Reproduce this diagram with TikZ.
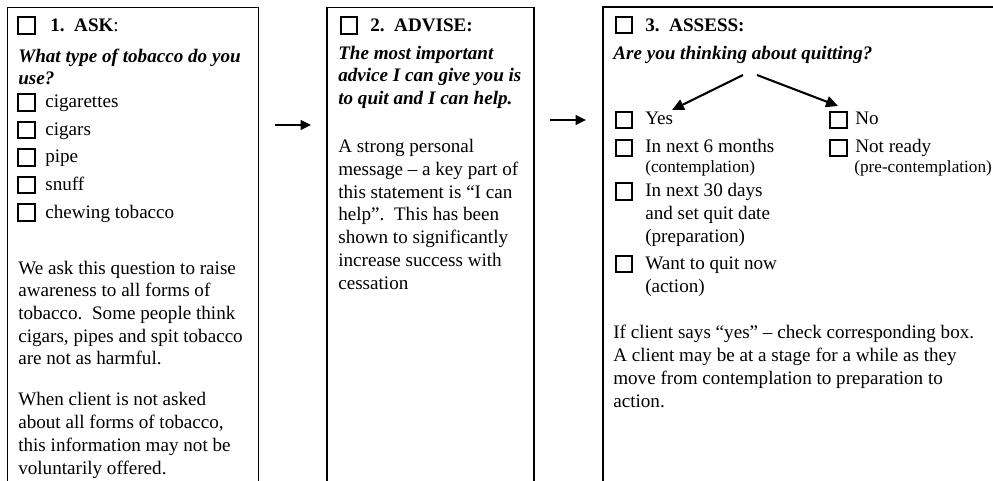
\documentclass[tikz,border=0pt]{standalone}
\usepackage{fontspec}
\setmainfont{Liberation Serif}
\usepackage{tikz}
\usetikzlibrary{arrows.meta,fit}

\begin{document}
\begin{tikzpicture}[x=0.628pt, y=-0.628pt,
    panel/.style={draw, line width=0.9pt, inner sep=0pt},
    chk/.style={draw, line width=1.2pt, minimum size=10.4pt, inner sep=0pt},
    txt/.style={anchor=base west, inner sep=0pt, align=left, font=\fontsize{12}{14.25}\selectfont},
    qtxt/.style={txt, font=\fontsize{12}{14.25}\selectfont\bfseries\itshape},
    small/.style={txt, font=\fontsize{10.8}{13}\selectfont},
    arr/.style={-{Triangle[length=6.5pt,width=6pt]}, line width=1.3pt},
    bigarr/.style={-{Triangle[length=7.5pt,width=7pt]}, line width=1.3pt}]
    \useasboundingbox (0,0) rectangle (993,481);
    \clip (0,0) rectangle (993,481);
    \node[panel, fit={(7.5,7.5) (258.5,495)}] (ask) {};
    \node[panel, fit={(327,7.5) (534,495)}] (advise) {};
    \node[panel, fit={(603,7) (1005,495)}] (assess) {};

    % multi-line texts sit on the baseline of their last line
    \node[chk] (ckask) at (26.5,25.5) {};
    \node[txt] (askhead) at (50,31.5) {\textbf{1.\ \ ASK}:};
    \node[qtxt] (askq) at (18,84.7) {What type of tobacco do you\\use?};
    \node[chk] (ckcig) at (26.5,102.5) {};
    \node[txt] (cig) at (45,108) {cigarettes};
    \node[chk] (ckcigar) at (26.5,130) {};
    \node[txt] (cigar) at (45,135.5) {cigars};
    \node[chk] (ckpipe) at (26.5,157.5) {};
    \node[txt] (pipe) at (45,163) {pipe};
    \node[chk] (cksnuff) at (26.5,185) {};
    \node[txt] (snuff) at (45,190.5) {snuff};
    \node[chk] (ckchew) at (26.5,212.5) {};
    \node[txt] (chew) at (45,218) {chewing tobacco};
    \node[txt] (askwhy) at (18,364.8) {We ask this question to raise\\awareness to all forms of\\tobacco.\ \ Some people think\\cigars, pipes and spit tobacco\\are not as harmful.};
    \node[txt] (asknote) at (18,474) {When client is not asked\\about all forms of tobacco,\\this information may not be\\voluntarily offered.};

    \node[chk] (ckadvise) at (349,25.5) {};
    \node[txt] (advisehead) at (370,32) {\textbf{2.\ \ ADVISE:}};
    \node[qtxt] (adviseq) at (338,104.4) {The most important\\advice I can give you is\\to quit and I can help.};
    \node[txt] (advisewhy) at (338,289) {A strong personal\\message -- a key part of\\this statement is “I can\\help”.\ \ This has been\\shown to significantly\\increase success with\\cessation};

    \node[chk] (ckassess) at (624,25) {};
    \node[txt] (assesshead) at (645,32) {\textbf{3.\ \ ASSESS:}};
    \node[qtxt] (assessq) at (613,60) {Are you thinking about quitting?};
    \node[chk] (ckyes) at (624,120) {};
    \node[txt] (yes) at (645,125) {Yes};
    \node[chk] (ckno) at (838.5,120) {};
    \node[txt] (no) at (855,125) {No};
    \node[chk] (cksix) at (624,148) {};
    \node[txt] (six) at (645,153) {In next 6 months};
    \node[small] (contemp) at (645,173) {(contemplation)};
    \node[chk] (cknot) at (838.5,148) {};
    \node[txt] (notready) at (855,153) {Not ready};
    \node[small] (precontemp) at (854,173) {(pre-contemplation)};
    \node[chk] (ckthirty) at (624,191.5) {};
    \node[txt] (thirty) at (645,242) {In next 30 days\\and set quit date\\(preparation)};
    \node[chk] (cknow) at (624,264) {};
    \node[txt] (now) at (645,292.5) {Want to quit now\\(action)};
    \node[txt] (assesswhy) at (613,407) {If client says “yes” -- check corresponding box.\\A client may be at a stage for a while as they\\move from contemplation to preparation to\\action.};

    \coordinate (ar1a) at (275,125);
    \coordinate (ar1b) at (311,125);
    \coordinate (ar2a) at (550,120);
    \coordinate (ar2b) at (586,120);
    \draw[arr] (ar1a) -- (ar1b);
    \draw[arr] (ar2a) -- (ar2b);
    \coordinate (yesfrom) at (743,75);
    \coordinate (yesto) at (672,110);
    \coordinate (nofrom) at (757,75);
    \coordinate (noto) at (838,106);
    \draw[bigarr] (yesfrom) -- (yesto);
    \draw[bigarr] (nofrom) -- (noto);
\end{tikzpicture}
\end{document}
